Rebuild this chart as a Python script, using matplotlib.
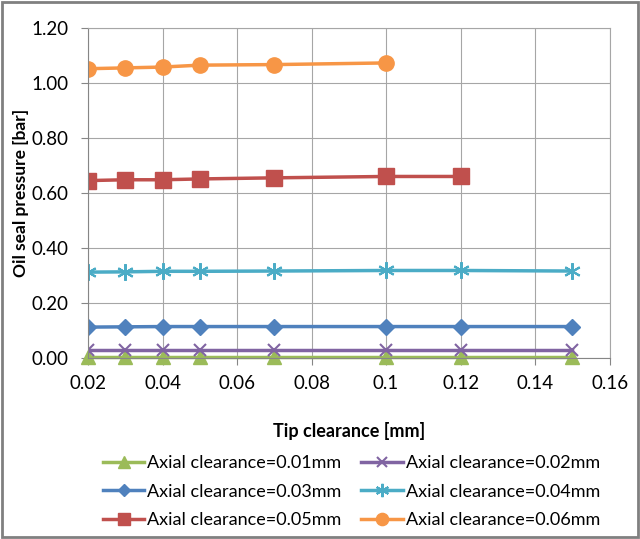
import matplotlib
matplotlib.use("Agg")
import matplotlib.pyplot as plt
from matplotlib.ticker import FixedLocator, FuncFormatter

plt.rcParams['font.family'] = ['Lato', 'DejaVu Sans']

tip = [0.02, 0.03, 0.04, 0.05, 0.07, 0.1, 0.12, 0.15]
ax001 = [0.004, 0.004, 0.004, 0.004, 0.004, 0.004, 0.004, 0.004]
ax002 = [0.030, 0.030, 0.030, 0.030, 0.030, 0.030, 0.030, 0.030]
ax003 = [0.112, 0.113, 0.114, 0.114, 0.114, 0.114, 0.114, 0.114]
ax004 = [0.312, 0.313, 0.315, 0.315, 0.316, 0.318, 0.318, 0.316]
ax005 = [0.645, 0.648, 0.648, 0.651, 0.655, 0.660, 0.660]
ax006 = [1.052, 1.055, 1.058, 1.065, 1.067, 1.073]
labels = ["Axial clearance=0.01mm", "Axial clearance=0.02mm", "Axial clearance=0.03mm",
          "Axial clearance=0.04mm", "Axial clearance=0.05mm", "Axial clearance=0.06mm"]

fig = plt.figure(figsize=(6.4, 5.39), dpi=100)
ax = fig.add_axes([0.1375, 0.336, 0.815, 0.612])

h1, = ax.plot(tip, ax001, color='#9BBB59', marker='^', ms=10, lw=2.5, label=labels[0], clip_on=False)
h2, = ax.plot(tip, ax002, color='#8064A2', marker='x', ms=9, mew=1.5, lw=2.5, label=labels[1])
h3, = ax.plot(tip, ax003, color='#4F81BD', marker='D', ms=8, lw=2.5, label=labels[2])
h4, = ax.plot(tip, ax004, color='#4BACC6', marker=(6, 2, 0), ms=12, mew=1.5, lw=2.5, label=labels[3])
h5, = ax.plot(tip[:7], ax005, color='#C0504D', marker='s', ms=11, lw=2.5, label=labels[4])
h6, = ax.plot(tip[:6], ax006, color='#F79646', marker='o', ms=11, lw=2.5, label=labels[5])

ax.set_xlim(0.02, 0.16)
ax.set_ylim(0, 1.2)
ax.xaxis.set_major_locator(FixedLocator([0.02, 0.04, 0.06, 0.08, 0.1, 0.12, 0.14, 0.16]))
ax.xaxis.set_major_formatter(FuncFormatter(lambda v, p: '0.1' if abs(v - 0.1) < 1e-9 else '%.2f' % v))
ax.yaxis.set_major_locator(FixedLocator([0, 0.2, 0.4, 0.6, 0.8, 1.0, 1.2]))
ax.yaxis.set_major_formatter(FuncFormatter(lambda v, p: '%.2f' % v))
ax.grid(True, color='#A6A6A6', lw=0.8)
ax.set_axisbelow(True)
for s in ['top', 'right']:
    ax.spines[s].set_color('#A6A6A6')
for s in ['left', 'bottom']:
    ax.spines[s].set_color('#868686')
ax.tick_params(axis='both', labelsize=13.5, length=5, color='#868686', labelcolor='black')
ax.tick_params(axis='y', pad=9)
ax.tick_params(axis='x', pad=7)
ax.set_xlabel("Tip clearance [mm]", fontsize=13, fontweight='bold', labelpad=22)
ax.set_ylabel("Oil seal pressure [bar]", fontsize=12.5, fontweight='bold', labelpad=2)

fig.legend([h1, h3, h5, h2, h4, h6], [labels[0], labels[2], labels[4], labels[1], labels[3], labels[5]],
           ncol=2, loc='center', bbox_to_anchor=(0.549, 0.088), frameon=False, fontsize=13,
           handlelength=2.3, columnspacing=1.1, labelspacing=0.68, handletextpad=0.15,
           markerscale=0.8)

fig.patches.append(plt.Rectangle((0.003, 0.003), 0.994, 0.994, transform=fig.transFigure,
                                 fill=False, edgecolor='#808080', lw=2))
fig.savefig("out.png", dpi=100)
